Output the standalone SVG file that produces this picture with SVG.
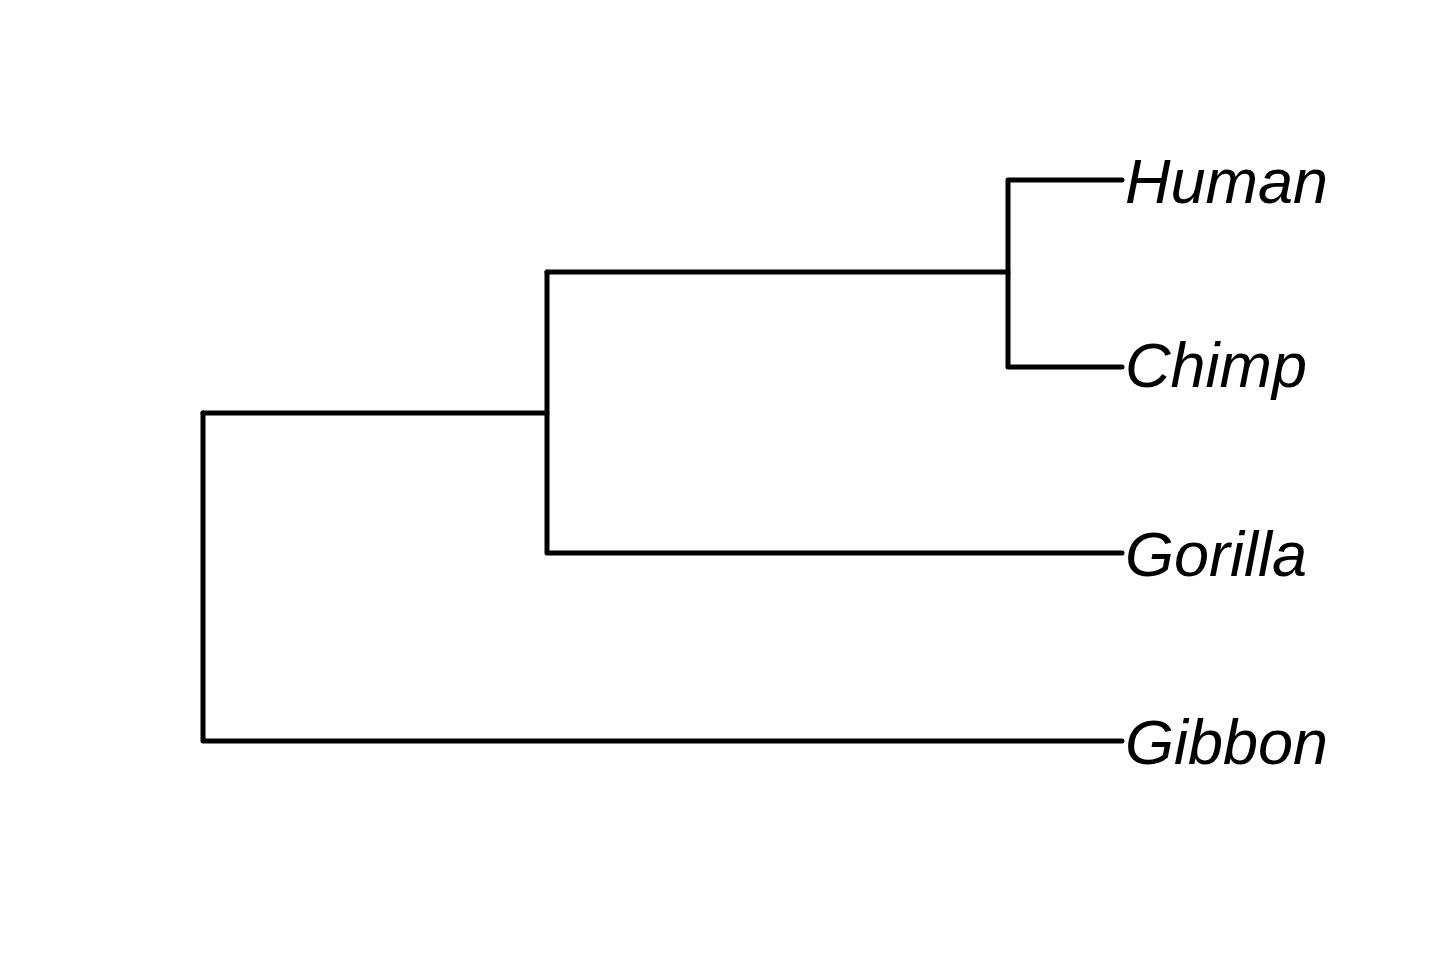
<svg xmlns="http://www.w3.org/2000/svg" width="1440" height="960" viewBox="0 0 1440 960">
<style>
.e{fill:none;stroke:#000;stroke-width:5;stroke-linecap:round;stroke-linejoin:round}
.t{font-family:"Liberation Sans",Arial,sans-serif;font-style:italic;font-size:63px;fill:#000}
</style>
<rect width="1440" height="960" fill="#fff"/>
<g id="connectors">
<path class="e" d="M203,413 V741 H1122"/>
<path class="e" d="M203,413 H547"/>
<path class="e" d="M547,272 V553 H1122"/>
<path class="e" d="M547,272 H1008"/>
<path class="e" d="M1122,180 H1008 V367 H1122"/>
</g>
<g id="human"><text class="t" x="1125" y="203">Human</text></g>
<g id="chimp"><text class="t" x="1125" y="387">Chimp</text></g>
<g id="gorilla"><text class="t" x="1125" y="576">Gorilla</text></g>
<g id="gibbon"><text class="t" x="1125" y="764">Gibbon</text></g>
</svg>
